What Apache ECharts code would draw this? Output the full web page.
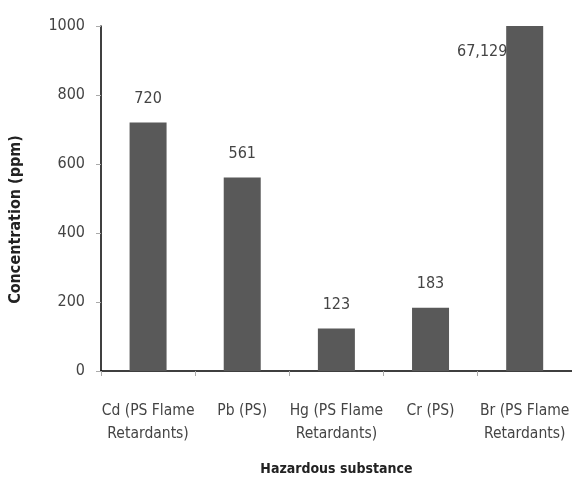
<!DOCTYPE html>
<html>
<head>
<meta charset="utf-8">
<script src="https://cdn.jsdelivr.net/npm/echarts@6/dist/echarts.min.js"></script>
<style>
  html, body { margin: 0; padding: 0; background: #fff; }
  #chart { width: 572px; height: 481px; }
</style>
</head>
<body>
<div id="chart"></div>
<script>
// Hazardous substance concentrations (ppm)
const categories = [
  'Cd (PS Flame\nRetardants)',
  'Pb (PS)',
  'Hg (PS Flame\nRetardants)',
  'Cr (PS)',
  'Br (PS Flame\nRetardants)'
];
const concentrations = [720, 561, 123, 183, 67129];
const yTicks = [0, 200, 400, 600, 800, 1000];

const FONT = '"DejaVu Sans Condensed", "Liberation Sans Narrow", sans-serif';
const TEXT = '#444';

const chart = echarts.init(document.getElementById('chart'), null, { renderer: 'canvas' });

// The Br value runs far past the axis range; the bar is clipped at the top
// and its label sits beside the bar instead of above it.
const seriesData = concentrations.map(v => {
  if (v > yTicks[yTicks.length - 1]) {
    return {
      value: v,
      label: { position: [-24, 26], align: 'center', verticalAlign: 'middle' }
    };
  }
  return v;
});

chart.setOption({
  animation: false,
  backgroundColor: '#fff',
  grid: { left: 98, right: -1, top: 26, bottom: 99, containLabel: false },
  xAxis: {
    type: 'category',
    data: categories,
    name: 'Hazardous substance',
    nameLocation: 'middle',
    nameGap: 91,
    nameTextStyle: { fontFamily: FONT, fontSize: 14, fontWeight: 'bold', color: '#222' },
    axisLine: { lineStyle: { color: '#000', width: 1.5 } },
    axisTick: { show: true, length: 5, lineStyle: { color: '#aaa' } },
    axisLabel: {
      fontFamily: FONT, fontSize: 15.5, color: TEXT, lineHeight: 23,
      margin: 28, interval: 0
    }
  },
  yAxis: {
    type: 'value',
    min: yTicks[0],
    max: yTicks[yTicks.length - 1],
    interval: 200,
    name: 'Concentration (ppm)',
    nameLocation: 'middle',
    nameGap: 77,
    nameRotate: 90,
    nameTextStyle: {
      fontFamily: FONT, fontSize: 16, fontWeight: 'bold', color: '#222',
      padding: [0, 42, 0, 0]
    },
    axisLine: { show: true, lineStyle: { color: '#000', width: 1.5 } },
    axisTick: { show: true, length: 5, lineStyle: { color: '#aaa' } },
    axisLabel: { fontFamily: FONT, fontSize: 16, color: TEXT, margin: 16, formatter: v => String(v) },
    splitLine: { show: false }
  },
  series: [{
    type: 'bar',
    data: seriesData,
    barWidth: 37,
    clip: true,
    itemStyle: { color: '#595959' },
    label: {
      show: true,
      position: 'top',
      distance: 16,
      fontFamily: FONT,
      fontSize: 16,
      color: TEXT,
      formatter: p => p.value.toLocaleString('en-US')
    }
  }]
});
</script>
</body>
</html>
